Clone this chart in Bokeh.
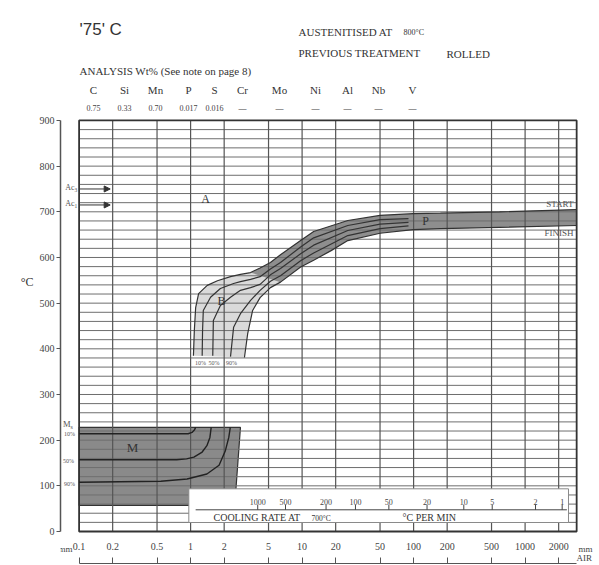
import numpy as np
from bokeh.plotting import figure
from bokeh.models import Range1d, FixedTicker, Label, Arrow, NormalHead
from bokeh.core.properties import value
from bokeh.embed import file_html
from bokeh.resources import INLINE

# ---------------- data ----------------
DIAM_TICKS = [0.1, 0.2, 0.5, 1, 2, 5, 10, 20, 50, 100, 200, 500, 1000, 2000]
DIAM_LABELS = ["0.1", "0.2", "0.5", "1", "2", "5", "10", "20", "50", "100",
               "200", "500", "1000", "2000"]
TEMP_TICKS = [0, 100, 200, 300, 400, 500, 600, 700, 800, 900]
TEMP_GRID = list(range(20, 900, 20))
BOX_D = [0.1, 2900]
BOX_T = [0, 900]

ELEMENTS = ["C", "Si", "Mn", "P", "S", "Cr", "Mo", "Ni", "Al", "Nb", "V"]
WT_PCT = ["0.75", "0.33", "0.70", "0.017", "0.016", "—", "—", "—", "—", "—", "—"]

AC3, AC1 = 750, 715
AC_ARROW_D = [0.1, 0.19]

# transformation start / finish and iso-percentage curves (diameter mm, deg C)
START_D = [1.06, 1.08, 1.11, 1.18, 1.41, 1.74, 2.28, 2.8, 3.45, 4.2, 5.2, 6.4,
           9.7, 12.7, 25.7, 50, 99, 174, 590, 2900]
START_T = [385, 440, 490, 521, 539, 549, 558, 563, 567, 577, 589, 606,
           637, 657, 681, 692, 696, 697, 700, 705]
FINISH_D = [3.04, 3.25, 3.6, 4.2, 5.2, 6.4, 9.7, 12.7, 18.2, 25.7, 50, 99,
            174, 590, 2900]
FINISH_T = [381, 433, 484, 512, 534, 546, 579, 594, 615, 637, 653, 661,
            663, 666, 670]
P10_D = [1.27, 1.28, 1.3, 1.51, 1.85, 2.43, 2.8, 3.45, 4.2, 5.2, 6.4, 9.7,
         12.7, 25.7, 50, 90]
P10_T = [385, 440, 484, 513, 532, 543, 547, 552, 558, 575, 589, 623,
         643, 670, 683, 685]
P50_D = [1.58, 1.6, 1.85, 2.28, 2.8, 3.45, 4.2, 5.2, 6.4, 9.7, 12.7, 25.7, 50, 90]
P50_T = [385, 462, 495, 513, 528, 534, 541, 562, 576, 608, 627, 659, 673, 677]
P90_D = [2.28, 2.43, 2.8, 3.45, 4.2, 5.2, 6.4, 9.7, 12.7, 25.7, 50, 90]
P90_T = [383, 447, 477, 506, 528, 548, 560, 593, 610, 648, 663, 669]

# martensite region
M_REGION_D = [0.1, 2.8, 2.55, 2.5, 0.1]
M_REGION_T = [228, 228, 93, 57, 57]
M10_D = [0.1, 0.95, 1.03, 1.08, 1.11]
M10_T = [214, 214, 217, 222, 228]
M50_D = [0.1, 0.75, 0.92, 1.07, 1.27, 1.4, 1.49, 1.53]
M50_T = [157, 157, 159, 163, 174, 188, 206, 228]
M90_D = [0.1, 0.54, 0.93, 1.4, 1.8, 2.05, 2.2, 2.27]
M90_T = [108, 110, 115, 126, 145, 177, 206, 228]

# cooling rate scale (deg C per min at 700 C) and its position on the diameter scale
COOL_RATES = ["1000", "500", "200", "100", "50", "20", "10", "5", "2", "1"]
COOL_RATE_D = [4.0, 7.1, 16.4, 30.1, 60, 132, 282, 507, 1240, 2150]
COOL_BOX_D = [0.964, 2450]
COOL_BOX_T = [19.7, 93.5]
COOL_SCALE_D = [1.11, 2370]
COOL_SCALE_T = 47.5
COOL_TICK_T = 59

# ---------------- layout helpers (canvas pixels -> data) ----------------
X0_PX, PX_DEC = 78.6, 111.5
Y0_PX, PX_DEG = 531.0, 0.4567


def dx(px):
    return 10 ** (-1 + (px - X0_PX) / PX_DEC)


def dy(py):
    return (Y0_PX - py) / PX_DEG


SERIF = "Liberation Serif"
INK = "#333333"

p = figure(width=599, height=565, x_axis_type="log",
           x_range=Range1d(dx(60), dx(599)), y_range=Range1d(dy(563), dy(0)),
           output_backend="svg", toolbar_location=None,
           min_border_left=60, min_border_right=0, min_border_top=0,
           min_border_bottom=2)
p.outline_line_color = None
p.xgrid.visible = False
p.ygrid.visible = False
p.background_fill_color = "white"
p.border_fill_color = "white"

# axes
p.yaxis.ticker = FixedTicker(ticks=TEMP_TICKS)
p.yaxis.bounds = (BOX_T[0], BOX_T[1])
p.yaxis.axis_line_color = "#555555"
p.yaxis.axis_line_width = 1.5
p.yaxis.major_tick_line_color = "#555555"
p.yaxis.major_tick_out = 4
p.yaxis.major_tick_in = 0
p.yaxis.minor_tick_line_color = None
p.yaxis.major_label_text_font = SERIF
p.yaxis.major_label_text_font_size = "10px"
p.yaxis.major_label_text_color = "#444444"
p.yaxis.major_label_standoff = 2
p.yaxis.axis_label = "°C"
p.yaxis.axis_label_text_font = SERIF
p.yaxis.axis_label_text_font_size = "12px"
p.yaxis.axis_label_text_font_style = "normal"
p.yaxis.axis_label_text_color = INK
p.yaxis.axis_label_standoff = 3
try:
    p.yaxis.axis_label_orientation = "horizontal"
except Exception:
    pass

p.xaxis.ticker = FixedTicker(ticks=DIAM_TICKS)
p.xaxis.bounds = (BOX_D[0], BOX_D[1])
p.xaxis.major_label_overrides = dict(zip(DIAM_TICKS, DIAM_LABELS))
p.xaxis.axis_line_color = "#555555"
p.xaxis.axis_line_width = 1.2
p.xaxis.major_tick_line_color = "#555555"
p.xaxis.major_tick_in = 6
p.xaxis.major_tick_out = 0
p.xaxis.minor_tick_line_color = None
p.xaxis.major_label_text_font = SERIF
p.xaxis.major_label_text_font_size = "10px"
p.xaxis.major_label_text_color = "#444444"
p.xaxis.major_label_standoff = -21

# ---- fills ----
p.patch(START_D + FINISH_D[::-1], START_T + FINISH_T[::-1],
        fill_color="#dadada", line_color=None)
ps = [i for i, d in enumerate(START_D) if d >= 3.0]
pf = [i for i, d in enumerate(FINISH_D) if d >= 6.0]
p.patch([START_D[i] for i in ps] + [FINISH_D[i] for i in pf][::-1],
        [START_T[i] for i in ps] + [FINISH_T[i] for i in pf][::-1],
        fill_color="#8e8e8e", line_color=None)
p.patch(M_REGION_D, M_REGION_T, fill_color="#8a8a8a", line_color=INK,
        line_width=1.2)

# ---- grid ----
n = len(TEMP_GRID)
p.segment(x0=[BOX_D[0]] * n, y0=TEMP_GRID, x1=[BOX_D[1]] * n, y1=TEMP_GRID,
          line_color="#6e6e6e", line_width=1)
vg = DIAM_TICKS[1:]
p.segment(x0=vg, y0=[BOX_T[0]] * len(vg), x1=vg, y1=[BOX_T[1]] * len(vg),
          line_color="#555555", line_width=1.2)
p.quad(left=[BOX_D[0]], right=[BOX_D[1]], bottom=[BOX_T[0]], top=[BOX_T[1]],
       fill_color=None, line_color=INK, line_width=1.8)

# ---- curves ----
for xs, ys in [(START_D, START_T), (FINISH_D, FINISH_T), (P10_D, P10_T),
               (P50_D, P50_T), (P90_D, P90_T)]:
    p.line(xs, ys, line_color=INK, line_width=1.2)
for xs, ys in [(M10_D, M10_T), (M50_D, M50_T), (M90_D, M90_T)]:
    p.line(xs, ys, line_color="#222222", line_width=1.4)

# Ac arrows
for t in (AC3, AC1):
    p.add_layout(Arrow(end=NormalHead(size=6, fill_color=INK, line_color=INK),
                       x_start=AC_ARROW_D[0], y_start=t, x_end=AC_ARROW_D[1],
                       y_end=t, line_color=INK, line_width=1))

# ---- cooling rate box ----
p.quad(left=[COOL_BOX_D[0]], right=[COOL_BOX_D[1]], bottom=[COOL_BOX_T[0]],
       top=[COOL_BOX_T[1]], fill_color="white", line_color="#8a8a8a",
       line_width=1)
p.line(COOL_SCALE_D, [COOL_SCALE_T] * 2, line_color="#444444", line_width=1)
p.segment(x0=COOL_RATE_D, y0=[COOL_SCALE_T] * len(COOL_RATE_D), x1=COOL_RATE_D,
          y1=[COOL_TICK_T] * len(COOL_RATE_D), line_color="#444444", line_width=1)
p.text(x=COOL_RATE_D, y=[dy(501.5)] * len(COOL_RATE_D), text=COOL_RATES,
       text_font=value(SERIF), text_font_size="8px", text_color="#444444",
       text_align="center", text_baseline="middle")


def lab(px, py, text, size="11px", align="left", font=SERIF, color=INK,
        style="normal"):
    p.add_layout(Label(x=dx(px), y=dy(py), text=text, text_font=font,
                       text_font_size=size, text_color=color, text_align=align,
                       text_baseline="middle", text_font_style=style))


lab(213, 517, "COOLING RATE AT", "10px")
lab(311, 518, "700°C", "7.5px")
lab(402, 517, "°C PER MIN", "10px")

# ---- header ----
lab(79, 29, "'75' C", "17px", font="Liberation Sans")
lab(298, 31.5, "AUSTENITISED AT", "11px")
lab(403, 32, "800°C", "8px")
lab(298, 52, "PREVIOUS TREATMENT", "11px")
lab(446, 53, "ROLLED", "11px")
lab(79, 70, "ANALYSIS  Wt% (See note on page 8)", "11px")
EL_PX = [93, 124, 155, 188, 214, 242, 279, 315, 347, 378, 412]
p.text(x=[dx(v) for v in EL_PX], y=[dy(89.5)] * len(EL_PX), text=ELEMENTS,
       text_font=value(SERIF), text_font_size="11px", text_color=INK,
       text_align="center", text_baseline="middle")
p.text(x=[dx(v) for v in EL_PX], y=[dy(107.5)] * len(EL_PX), text=WT_PCT,
       text_font=value(SERIF), text_font_size="8px", text_color="#444444",
       text_align="center", text_baseline="middle")

# ---- in-chart labels ----
lab(74, 187, "Ac", "8px", align="right", color="#555555")
lab(74, 189.5, "3", "5.5px", color="#555555")
lab(74, 203, "Ac", "8px", align="right", color="#555555")
lab(74, 205.5, "1", "5.5px", color="#555555")
lab(205, 198, "A", "12px", align="center")
lab(221, 300, "B", "12px", align="center")
lab(425, 220, "P", "12px", align="center")
lab(132, 447, "M", "13px", align="center")
lab(573, 203, "START", "9px", align="right", color="#555555")
lab(573, 232, "FINISH", "9px", align="right", color="#555555")
lab(70, 423, "M", "8.5px", align="right", color="#555555")
lab(70, 426, "s", "6px", color="#555555")
lab(69, 433, "10%", "6px", align="center", color="#555555")
lab(68, 460, "50%", "6px", align="center", color="#555555")
lab(69, 483, "90%", "6px", align="center", color="#555555")
lab(200, 362, "10%", "6px", align="center", color="#555555")
lab(213.5, 362, "50%", "6px", align="center", color="#555555")
lab(231, 362, "90%", "6px", align="center", color="#555555")
lab(72, 548, "mm", "9px", align="right", color="#444444")
lab(578, 548, "mm", "9px", color="#444444")
lab(576, 557, "AIR", "9px", color="#444444")

open("out.html", "w").write(file_html(p, INLINE))
